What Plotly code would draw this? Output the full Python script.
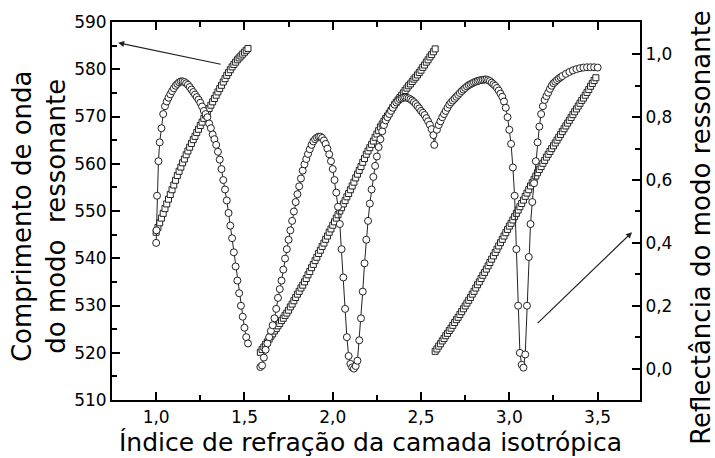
import plotly.graph_objects as go

# ---------------- data ----------------
# Resonant wavelength (nm), left axis - squares, three branches
wl_x_1 = [1.00, 1.01, 1.02, 1.03, 1.04, 1.05, 1.06, 1.07, 1.08, 1.09, 1.10, 1.11, 1.12, 1.13, 1.14,
          1.15, 1.16, 1.17, 1.18, 1.19, 1.20, 1.21, 1.22, 1.23, 1.24, 1.25, 1.26, 1.27, 1.28, 1.29,
          1.30, 1.31, 1.32, 1.33, 1.34, 1.35, 1.36, 1.37, 1.38, 1.39, 1.40, 1.41, 1.42, 1.43, 1.44,
          1.45, 1.46, 1.47, 1.48, 1.49, 1.50, 1.51, 1.52]
wl_y_1 = [545.5, 546.5, 547.5, 548.5, 549.5, 550.5, 551.5, 552.5, 553.5, 554.5, 555.5, 556.5, 557.5,
          558.4, 559.3, 560.2, 561.0, 561.9, 562.7, 563.5, 564.3, 565.1, 565.8, 566.6, 567.3, 568.1,
          568.8, 569.6, 570.3, 571.0, 571.7, 572.4, 573.1, 573.8, 574.5, 575.2, 575.9, 576.6, 577.3,
          578.0, 578.7, 579.3, 579.9, 580.5, 581.0, 581.5, 582.0, 582.4, 582.8, 583.2, 583.6, 584.0,
          584.4]

wl_x_2 = [1.59, 1.60, 1.61, 1.62, 1.63, 1.64, 1.65, 1.66, 1.67, 1.68, 1.69, 1.70, 1.71, 1.72, 1.73,
          1.74, 1.75, 1.76, 1.77, 1.78, 1.79, 1.80, 1.81, 1.82, 1.83, 1.84, 1.85, 1.86, 1.87, 1.88,
          1.89, 1.90, 1.91, 1.92, 1.93, 1.94, 1.95, 1.96, 1.97, 1.98, 1.99, 2.00, 2.01, 2.02, 2.03,
          2.04, 2.05, 2.06, 2.07, 2.08, 2.09, 2.10, 2.11, 2.12, 2.13, 2.14, 2.15, 2.16, 2.17, 2.18,
          2.19, 2.20, 2.21, 2.22, 2.23, 2.24, 2.25, 2.26, 2.27, 2.28, 2.29, 2.30, 2.31, 2.32, 2.33,
          2.34, 2.35, 2.36, 2.37, 2.38, 2.39, 2.40, 2.41, 2.42, 2.43, 2.44, 2.45, 2.46, 2.47, 2.48,
          2.49, 2.50, 2.51, 2.52, 2.53, 2.54, 2.55, 2.56, 2.57, 2.58]
wl_y_2 = [520.1, 520.7, 521.2, 521.8, 522.3, 522.9, 523.5, 524.0, 524.6, 525.1, 525.7, 526.2, 526.8,
          527.3, 527.9, 528.4, 529.0, 529.7, 530.3, 531.0, 531.7, 532.4, 533.0, 533.7, 534.3, 535.0,
          535.7, 536.5, 537.2, 538.0, 538.7, 539.5, 540.2, 541.0, 541.7, 542.5, 543.2, 544.0, 544.7,
          545.5, 546.2, 547.0, 547.7, 548.5, 549.2, 550.0, 550.7, 551.5, 552.2, 553.0, 553.7, 554.5,
          555.3, 556.1, 557.0, 557.8, 558.6, 559.4, 560.3, 561.1, 562.0, 562.7, 563.4, 564.1, 564.8,
          565.6, 566.3, 567.0, 567.8, 568.4, 569.0, 569.6, 570.1, 570.7, 571.3, 571.9, 572.5, 573.0,
          573.5, 574.0, 574.5, 575.0, 575.5, 576.0, 576.5, 576.9, 577.4, 577.9, 578.3, 578.8, 579.3,
          579.8, 580.4, 580.9, 581.5, 582.0, 582.6, 583.1, 583.7, 584.3]

wl_x_3 = [2.58, 2.59, 2.60, 2.61, 2.62, 2.63, 2.64, 2.65, 2.66, 2.67, 2.68, 2.69, 2.70, 2.71, 2.72,
          2.73, 2.74, 2.75, 2.76, 2.77, 2.78, 2.79, 2.80, 2.81, 2.82, 2.83, 2.84, 2.85, 2.86, 2.87,
          2.88, 2.89, 2.90, 2.91, 2.92, 2.93, 2.94, 2.95, 2.96, 2.97, 2.98, 2.99, 3.00, 3.01, 3.02,
          3.03, 3.04, 3.05, 3.06, 3.07, 3.08, 3.09, 3.10, 3.11, 3.12, 3.13, 3.14, 3.15, 3.16, 3.17,
          3.18, 3.19, 3.20, 3.21, 3.22, 3.23, 3.24, 3.25, 3.26, 3.27, 3.28, 3.29, 3.30, 3.31, 3.32,
          3.33, 3.34, 3.35, 3.36, 3.37, 3.38, 3.39, 3.40, 3.41, 3.42, 3.43, 3.44, 3.45, 3.46, 3.47,
          3.48, 3.49]
wl_y_3 = [520.3, 520.8, 521.4, 521.9, 522.5, 523.0, 523.6, 524.1, 524.7, 525.2, 525.8, 526.4, 527.0,
          527.5, 528.1, 528.7, 529.3, 529.9, 530.5, 531.1, 531.7, 532.4, 533.0, 533.7, 534.4, 535.0,
          535.7, 536.4, 537.0, 537.7, 538.4, 539.1, 539.8, 540.5, 541.2, 541.9, 542.6, 543.3, 544.0,
          544.7, 545.4, 546.1, 546.8, 547.4, 548.1, 548.8, 549.5, 550.2, 550.9, 551.6, 552.3, 553.1,
          553.8, 554.5, 555.3, 556.0, 556.7, 557.4, 558.1, 558.8, 559.4, 560.1, 560.7, 561.4, 562.0,
          562.6, 563.2, 563.8, 564.4, 565.0, 565.6, 566.2, 566.8, 567.4, 568.0, 568.6, 569.2, 569.8,
          570.4, 571.0, 571.6, 572.2, 572.8, 573.4, 573.9, 574.5, 575.1, 575.7, 576.4, 577.0, 577.6,
          578.2]

# Reflectance of the resonant mode, right axis - circles
refl_x_a = [1.000, 1.002, 1.005, 1.013, 1.02, 1.03, 1.04, 1.05, 1.06, 1.07, 1.08, 1.09, 1.10, 1.11,
            1.12, 1.13, 1.14, 1.15, 1.16, 1.17, 1.18, 1.19, 1.20, 1.21, 1.22, 1.23, 1.24, 1.25, 1.26,
            1.27, 1.28, 1.29, 1.30, 1.31, 1.32, 1.33, 1.34, 1.35, 1.36, 1.37, 1.38, 1.39, 1.40, 1.41,
            1.42, 1.43, 1.44, 1.45, 1.46, 1.47, 1.48, 1.49, 1.50, 1.51, 1.52]
refl_y_a = [0.40, 0.44, 0.55, 0.66, 0.72, 0.765, 0.81, 0.835, 0.85, 0.862, 0.873, 0.883, 0.892, 0.90,
            0.906, 0.911, 0.914, 0.914, 0.912, 0.908, 0.903, 0.896, 0.888, 0.88, 0.872, 0.864, 0.856,
            0.846, 0.834, 0.82, 0.81, 0.80, 0.78, 0.765, 0.745, 0.73, 0.712, 0.69, 0.665, 0.635, 0.60,
            0.57, 0.535, 0.495, 0.455, 0.415, 0.37, 0.325, 0.28, 0.24, 0.20, 0.165, 0.13, 0.10, 0.08]

refl_x_b = [1.59, 1.60, 1.61, 1.62, 1.63, 1.64, 1.65, 1.66, 1.67, 1.68, 1.69, 1.70, 1.71, 1.72, 1.73,
            1.74, 1.75, 1.76, 1.77, 1.78, 1.79, 1.80, 1.81, 1.82, 1.83, 1.84, 1.85, 1.86, 1.87, 1.88,
            1.89, 1.90, 1.91, 1.92, 1.93, 1.94, 1.95, 1.96, 1.97, 1.98, 1.99, 2.00, 2.01, 2.02, 2.03,
            2.04, 2.05, 2.06, 2.07, 2.08, 2.09, 2.10, 2.11, 2.12, 2.13, 2.14, 2.15, 2.16, 2.17, 2.18,
            2.19, 2.20, 2.21, 2.22, 2.23, 2.24, 2.25, 2.26, 2.27, 2.28, 2.29, 2.30, 2.31, 2.32, 2.33,
            2.34, 2.35, 2.36, 2.37, 2.38, 2.39, 2.40, 2.41, 2.42, 2.43, 2.44, 2.45, 2.46, 2.47, 2.48,
            2.49, 2.50, 2.51, 2.52, 2.53, 2.54, 2.55, 2.56, 2.57, 2.575,
            2.59, 2.60, 2.61, 2.62, 2.63, 2.64, 2.65, 2.66, 2.67, 2.68, 2.69, 2.70, 2.71, 2.72, 2.73,
            2.74, 2.75, 2.76, 2.77, 2.78, 2.79, 2.80, 2.81, 2.82, 2.83, 2.84, 2.85, 2.86, 2.87, 2.88,
            2.89, 2.90, 2.91, 2.92, 2.93, 2.94, 2.95, 2.96, 2.97, 2.98, 2.99, 3.00, 3.01, 3.02, 3.03,
            3.04, 3.05, 3.06, 3.07, 3.08, 3.09, 3.10, 3.11, 3.12, 3.13, 3.14, 3.15, 3.16, 3.17, 3.18,
            3.19, 3.20, 3.21, 3.22, 3.23, 3.24, 3.25, 3.26, 3.27, 3.28, 3.29, 3.30, 3.32, 3.34, 3.36,
            3.38, 3.40, 3.42, 3.44, 3.46, 3.48, 3.50]
refl_y_b = [0.005, 0.01, 0.035, 0.06, 0.08, 0.10, 0.12, 0.138, 0.16, 0.19, 0.225, 0.253, 0.28, 0.315,
            0.35, 0.38, 0.41, 0.44, 0.47, 0.50, 0.53, 0.555, 0.58, 0.605, 0.63, 0.65, 0.667, 0.683,
            0.698, 0.712, 0.723, 0.73, 0.735, 0.738, 0.738, 0.734, 0.726, 0.715, 0.70, 0.682, 0.66,
            0.635, 0.60, 0.56, 0.515, 0.46, 0.38, 0.29, 0.19, 0.10, 0.04, 0.015, 0.004, 0.0, 0.008,
            0.025, 0.09, 0.16, 0.245, 0.335, 0.41, 0.47, 0.525, 0.57, 0.61, 0.645, 0.675, 0.705, 0.73,
            0.755, 0.775, 0.79, 0.80, 0.81, 0.82, 0.83, 0.84, 0.847, 0.852, 0.857, 0.86, 0.862, 0.863,
            0.862, 0.86, 0.857, 0.853, 0.848, 0.842, 0.835, 0.828, 0.82, 0.814, 0.807, 0.797, 0.787,
            0.776, 0.762, 0.743, 0.712,
            0.76, 0.775, 0.787, 0.80, 0.81, 0.82, 0.83, 0.84, 0.847, 0.853, 0.859, 0.865, 0.871, 0.877,
            0.883, 0.888, 0.893, 0.898, 0.902, 0.905, 0.908, 0.911, 0.913, 0.915, 0.917, 0.918, 0.919,
            0.92, 0.92, 0.918, 0.915, 0.91, 0.905, 0.90, 0.893, 0.885, 0.875, 0.865, 0.85, 0.83, 0.80,
            0.76, 0.715, 0.64, 0.55, 0.38, 0.20, 0.05, 0.012, 0.003, 0.045, 0.20, 0.355, 0.46, 0.53,
            0.59, 0.66, 0.72, 0.77, 0.81, 0.835, 0.855, 0.867, 0.878, 0.89, 0.90, 0.908, 0.913, 0.918,
            0.923, 0.927, 0.931, 0.938, 0.944, 0.949, 0.953, 0.956, 0.958, 0.959, 0.959, 0.959, 0.958]

x_ticks = [1.0, 1.5, 2.0, 2.5, 3.0, 3.5]
y_left_ticks = [510, 520, 530, 540, 550, 560, 570, 580, 590]
y_right_ticks = [0.0, 0.2, 0.4, 0.6, 0.8, 1.0]

FONT = "DejaVu Sans"

fig = go.Figure()

sq_marker = dict(symbol="square", size=6, color="white", line=dict(color="#222", width=1))
ci_marker = dict(symbol="circle", size=7, color="white", line=dict(color="#222", width=1))
line_style = dict(color="#222", width=1)

for xs, ys in [(wl_x_1, wl_y_1), (wl_x_2, wl_y_2), (wl_x_3, wl_y_3)]:
    fig.add_trace(go.Scatter(x=xs, y=ys, mode="lines+markers", marker=sq_marker,
                             line=line_style, showlegend=False, yaxis="y"))

for xs, ys in [(refl_x_a, refl_y_a), (refl_x_b, refl_y_b)]:
    fig.add_trace(go.Scatter(x=xs, y=ys, mode="lines+markers", marker=ci_marker,
                             line=line_style, showlegend=False, yaxis="y2"))

axis_common = dict(showline=True, linecolor="black", linewidth=2, ticks="inside",
                   tickcolor="black", tickwidth=1.5, ticklen=8, showgrid=False, zeroline=False,
                   tickfont=dict(family=FONT, size=17, color="black"))

fig.update_layout(
    width=715, height=458,
    margin=dict(l=112, r=75, t=16, b=58),
    paper_bgcolor="white", plot_bgcolor="white",
    separators=", ",
    font=dict(family=FONT, color="black"),
    xaxis=dict(range=[0.75, 3.74], tickvals=x_ticks, tickformat=".1f", mirror="ticks",
               ticklabelstandoff=1,
               minor=dict(ticks="inside", dtick=0.25, tick0=0, ticklen=5, tickcolor="black",
                          tickwidth=1.5),
               **axis_common),
    yaxis=dict(range=[510, 590], tickvals=y_left_ticks,
               minor=dict(ticks="inside", dtick=5, tick0=0, ticklen=5, tickcolor="black",
                          tickwidth=1.5),
               **axis_common),
    yaxis2=dict(range=[-0.1, 1.103], overlaying="y", side="right", tickvals=y_right_ticks,
                tickformat=".1f",
                minor=dict(ticks="inside", dtick=0.1, tick0=0, ticklen=5, tickcolor="black",
                           tickwidth=1.5),
                **axis_common),
)

title_font = dict(family=FONT, size=26, color="black")
fig.add_annotation(text="Índice de refração da camada isotrópica", xref="paper", yref="paper",
                   x=0.49, y=-0.113, showarrow=False, font=dict(family=FONT, size=25, color="black"),
                   xanchor="center", yanchor="middle")
fig.add_annotation(text="Comprimento de onda<br>do modo  ressonante", xref="paper", yref="paper",
                   x=-0.138, y=0.487, showarrow=False, font=title_font,
                   textangle=-90, xanchor="center", yanchor="middle")
fig.add_annotation(text="Reflectância do modo ressonante", xref="paper", yref="paper",
                   x=1.114, y=0.456, showarrow=False, font=title_font, textangle=-90,
                   xanchor="center", yanchor="middle")

# arrows pointing to the relevant axes
fig.add_annotation(x=0.785, y=585.6, ax=1.374, ay=581.0, xref="x", yref="y", axref="x", ayref="y",
                   showarrow=True, arrowhead=2, arrowsize=1, arrowwidth=1.2, arrowcolor="#222",
                   text="")
fig.add_annotation(x=3.695, y=0.434, ax=3.152, ay=0.14, xref="x", yref="y2", axref="x", ayref="y2",
                   showarrow=True, arrowhead=2, arrowsize=1, arrowwidth=1.2, arrowcolor="#222",
                   text="")

fig.write_html("out.html")
